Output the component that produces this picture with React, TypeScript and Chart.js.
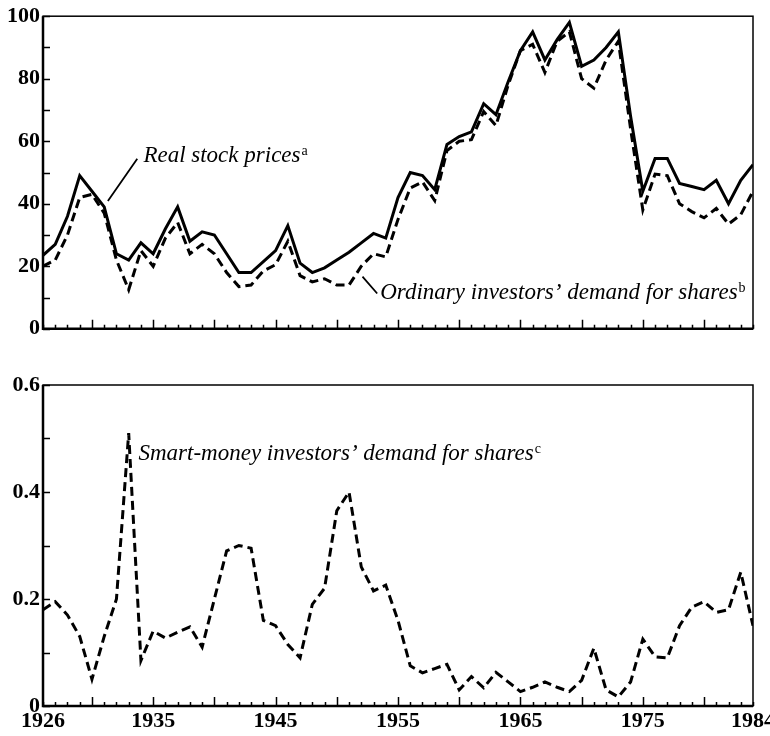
import React, { useEffect, useRef } from "react";
import { Chart, registerables } from "chart.js";
Chart.register(...registerables);

const years = [
  1926, 1927, 1928, 1929, 1930, 1931, 1932, 1933, 1934, 1935,
  1936, 1937, 1938, 1939, 1940, 1941, 1942, 1943, 1944, 1945,
  1946, 1947, 1948, 1949, 1950, 1951, 1952, 1953, 1954, 1955,
  1956, 1957, 1958, 1959, 1960, 1961, 1962, 1963, 1964, 1965,
  1966, 1967, 1968, 1969, 1970, 1971, 1972, 1973, 1974, 1975,
  1976, 1977, 1978, 1979, 1980, 1981, 1982, 1983, 1984,
];

const realStockPrices = [
  23.5, 27, 36, 49, 44, 39, 24, 22, 27.5, 24,
  32, 39, 28, 31, 30, 24, 18, 18, 21.5, 25,
  33, 21, 18, 19.5, 22, 24.5, 27.5, 30.5, 29, 42,
  50, 49, 44.5, 59, 61.5, 63, 72, 68.5, 79, 89,
  95, 86, 92.5, 98, 84, 86, 90, 95, 68, 44,
  54.5, 54.5, 46.5, 45.5, 44.5, 47.5, 40, 47.5, 52.5,
];

const ordinaryDemand = [
  20, 22, 30, 42, 43, 37, 22, 12.5, 25, 20,
  29, 34, 24, 27, 24, 18, 13.5, 14, 18.5, 20.5,
  28, 17, 15, 16, 14, 14, 20, 24, 23, 35,
  45, 47, 41, 57, 60, 60.5, 69.5, 65, 78, 89,
  91, 82, 92, 95, 80, 77, 86, 92, 64, 38,
  49.5, 49, 40, 37.5, 35.5, 38.5, 33.5, 36.5, 44,
];

const smartMoneyDemand = [
  0.18, 0.195, 0.17, 0.13, 0.05, 0.13, 0.2, 0.51, 0.085, 0.14,
  0.127, 0.138, 0.148, 0.11, 0.2, 0.29, 0.3, 0.295, 0.16, 0.15,
  0.115, 0.09, 0.19, 0.22, 0.365, 0.4, 0.26, 0.215, 0.226, 0.16,
  0.075, 0.062, 0.07, 0.078, 0.03, 0.055, 0.034, 0.063, 0.045, 0.027,
  0.035, 0.045, 0.035, 0.027, 0.048, 0.108, 0.03, 0.017, 0.045, 0.125,
  0.092, 0.09, 0.15, 0.185, 0.195, 0.175, 0.18, 0.25, 0.15,
];

const topYLabels = [0, 20, 40, 60, 80, 100];
const topYMarks = [0, 10, 20, 30, 40, 50, 60, 70, 80, 90, 100];
const bottomYLabels = [0, 0.2, 0.4, 0.6];
const bottomYMarks = [0, 0.1, 0.2, 0.3, 0.4, 0.5, 0.6];
const xTickLabels = [1926, 1935, 1945, 1955, 1965, 1975, 1984];

const FONT = '"Liberation Serif", "Times New Roman", Times, serif';

type Note = { text: string; sup: string; x: number; y: number };
type Leader = { x1: number; y1: number; x2: number; y2: number };

const topNotes: Note[] = [
  { text: "Real stock prices", sup: "a", x: 1934.2, y: 53.5 },
  { text: "Ordinary investors\u2019 demand for shares", sup: "b", x: 1953.55, y: 9.4 },
];
const topLeaders: Leader[] = [
  { x1: 1933.7, y1: 54.4, x2: 1931.3, y2: 40.9 },
  { x1: 1952.1, y1: 16.7, x2: 1953.3, y2: 11.3 },
];
const bottomNotes: Note[] = [
  { text: "Smart-money investors\u2019 demand for shares", sup: "c", x: 1933.8, y: 0.46 },
];

function makeFramePlugin(yMarks: number[], notes: Note[], leaders: Leader[]) {
  return {
    id: "frameAndNotes",
    afterDraw(chart: any) {
      const ctx = chart.ctx;
      const { left, right, top, bottom } = chart.chartArea;
      const xs = chart.scales.x;
      const ys = chart.scales.y;
      ctx.save();
      ctx.strokeStyle = "#000";
      ctx.lineWidth = 1.5;
      ctx.strokeRect(left, top, right - left, bottom - top);
      ctx.lineWidth = 2.5;
      ctx.beginPath();
      ctx.moveTo(left, top);
      ctx.lineTo(left, bottom);
      ctx.lineTo(right, bottom);
      ctx.stroke();
      ctx.lineWidth = 1.5;
      ctx.beginPath();
      for (const yr of years) {
        const px = Math.round(xs.getPixelForValue(yr)) + 0.5;
        const len = yr % 5 === 0 ? 9 : 4;
        ctx.moveTo(px, bottom);
        ctx.lineTo(px, bottom - len);
      }
      for (const v of yMarks) {
        const py = Math.round(ys.getPixelForValue(v)) + 0.5;
        ctx.moveTo(left, py);
        ctx.lineTo(left + 7, py);
      }
      ctx.stroke();
      ctx.lineWidth = 1.8;
      ctx.beginPath();
      for (const l of leaders) {
        ctx.moveTo(xs.getPixelForValue(l.x1), ys.getPixelForValue(l.y1));
        ctx.lineTo(xs.getPixelForValue(l.x2), ys.getPixelForValue(l.y2));
      }
      ctx.stroke();
      ctx.fillStyle = "#000";
      ctx.textBaseline = "alphabetic";
      ctx.textAlign = "left";
      for (const n of notes) {
        const px = xs.getPixelForValue(n.x);
        const py = ys.getPixelForValue(n.y);
        ctx.font = `italic 23px ${FONT}`;
        ctx.fillText(n.text, px, py);
        const w = ctx.measureText(n.text).width;
        ctx.font = `14px ${FONT}`;
        ctx.fillText(n.sup, px + w + 1, py - 7);
      }
      ctx.restore();
    },
  };
}

const tickFont = { family: FONT, size: 22, weight: "bold" as const };

function lineDataset(values: number[], dashed: boolean) {
  return {
    data: years.map((x, i) => ({ x, y: values[i] })),
    borderColor: "#000",
    backgroundColor: "#000",
    borderWidth: 3,
    borderDash: dashed ? [9, 5] : [],
    pointRadius: 0,
    tension: 0,
    fill: false,
  };
}

export default function App() {
  const topRef = useRef<HTMLCanvasElement | null>(null);
  const bottomRef = useRef<HTMLCanvasElement | null>(null);

  useEffect(() => {
    const top = new Chart(topRef.current as HTMLCanvasElement, {
      type: "line",
      data: {
        datasets: [lineDataset(realStockPrices, false), lineDataset(ordinaryDemand, true)] as any,
      },
      options: {
        animation: false,
        responsive: false,
        maintainAspectRatio: false,
        layout: { padding: { top: 15, right: 17, bottom: 12, left: 0 } },
        plugins: { legend: { display: false }, tooltip: { enabled: false } },
        scales: {
          x: { type: "linear", min: 1926, max: 1984, display: false },
          y: {
            min: 0,
            max: 100,
            afterBuildTicks: (s: any) => {
              s.ticks = topYLabels.map((v) => ({ value: v }));
            },
            afterFit: (s: any) => {
              s.width = 43;
            },
            grid: { display: false, drawTicks: false },
            border: { display: false },
            ticks: { font: tickFont, color: "#000", padding: 3 },
          },
        },
      } as any,
      plugins: [makeFramePlugin(topYMarks, topNotes, topLeaders)],
    });

    const bottom = new Chart(bottomRef.current as HTMLCanvasElement, {
      type: "line",
      data: { datasets: [lineDataset(smartMoneyDemand, true)] as any },
      options: {
        animation: false,
        responsive: false,
        maintainAspectRatio: false,
        layout: { padding: { top: 35, right: 17, bottom: 0, left: 0 } },
        plugins: { legend: { display: false }, tooltip: { enabled: false } },
        scales: {
          x: {
            type: "linear",
            min: 1926,
            max: 1984,
            afterBuildTicks: (s: any) => {
              s.ticks = xTickLabels.map((v) => ({ value: v }));
            },
            afterFit: (s: any) => {
              s.height = 30;
              s.paddingLeft = 0;
              s.paddingRight = 0;
            },
            grid: { display: false, drawTicks: false },
            border: { display: false },
            ticks: {
              font: tickFont,
              color: "#000",
              padding: 2,
              maxRotation: 0,
              autoSkip: false,
              callback: (v: any) => String(v),
            },
          },
          y: {
            min: 0,
            max: 0.6,
            afterBuildTicks: (s: any) => {
              s.ticks = bottomYLabels.map((v) => ({ value: v }));
            },
            afterFit: (s: any) => {
              s.width = 43;
            },
            grid: { display: false, drawTicks: false },
            border: { display: false },
            ticks: {
              font: tickFont,
              color: "#000",
              padding: 3,
              callback: (v: any) => (v === 0 ? "0" : Number(v).toFixed(1)),
            },
          },
        },
      } as any,
      plugins: [makeFramePlugin(bottomYMarks, bottomNotes, [])],
    });

    return () => {
      top.destroy();
      bottom.destroy();
    };
  }, []);

  return (
    <div
      style={{
        position: "fixed",
        left: 0,
        top: 0,
        width: 770,
        height: 736,
        background: "#fff",
        overflow: "hidden",
      }}
    >
      <canvas
        ref={topRef}
        width={770}
        height={345}
        style={{ position: "absolute", left: 0, top: 0, width: 770, height: 345 }}
      />
      <canvas
        ref={bottomRef}
        width={770}
        height={386}
        style={{ position: "absolute", left: 0, top: 350, width: 770, height: 386 }}
      />
    </div>
  );
}
